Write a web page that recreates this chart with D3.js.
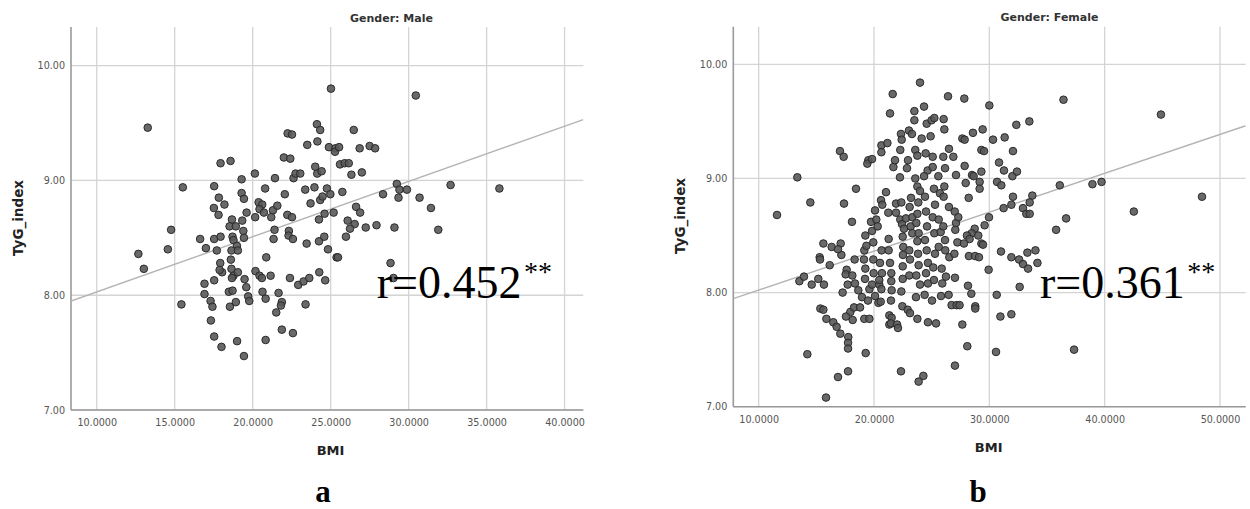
<!DOCTYPE html>
<html><head><meta charset="utf-8">
<script src="https://cdn.jsdelivr.net/npm/d3@7"></script>
<style>
html,body{margin:0;padding:0;background:#fff;}
svg{display:block;}
</style></head>
<body>
<svg id="chart" width="1250" height="509"></svg>
<script>
// ---------- DATA ----------
const maleTitle = "Gender: Male";
const femaleTitle = "Gender: Female";
const xLabel = "BMI";
const yLabel = "TyG_index";
const maleR = "r=0.452";
const femaleR = "r=0.361";
const sigMark = "**";
const panelLetters = ["a", "b"];

const maleXTicks = [10, 15, 20, 25, 30, 35, 40];
const femaleXTicks = [10, 20, 30, 40, 50];
const yTicks = [7, 8, 9, 10];

const maleXDomain = [8.35, 41.2];
const femaleXDomain = [7.8, 52.23];
const maleYDomain = [7, 10.337];
const femaleYDomain = [7, 10.33];

// fitted line (intercept, slope)
const maleFit = [7.548, 0.0481];
const femaleFit = [7.681, 0.0341];

// [BMI, TyG_index]
const malePoints = [
[13.27,9.46],[12.67,8.36],[13.02,8.23],[14.77,8.57],[14.56,8.40],[15.52,8.94],[15.43,7.92],
[16.63,8.49],[17.00,8.41],[16.91,8.10],[16.91,8.01],[17.30,7.95],[17.42,7.90],[17.32,7.78],[17.53,7.64],[18.00,7.55],[17.53,8.13],[17.53,8.95],[17.94,9.15],[18.58,9.17],[17.83,8.85],[18.19,8.79],[17.51,8.76],[17.81,8.70],[17.53,8.49],[17.94,8.51],[17.70,8.39],[17.92,8.28],[18.04,8.20],[17.88,8.22],
[18.67,8.66],[18.52,8.60],[18.92,8.60],[18.71,8.51],[18.77,8.48],[18.99,8.43],[18.64,8.39],[19.05,8.39],[18.60,8.31],[18.64,8.23],[18.77,8.17],[18.67,8.15],[19.05,8.20],[18.47,8.03],[18.71,8.04],[18.54,7.90],[18.92,7.94],[19.00,7.60],[19.44,7.47],
[19.29,9.01],[19.29,8.89],[19.44,8.84],[19.61,8.72],[19.33,8.65],[19.40,8.56],[19.44,8.50],[19.48,8.14],[19.59,8.07],[19.71,7.99],[19.78,7.95],
[20.14,9.06],[20.16,8.68],[20.38,8.81],[20.61,8.79],[20.44,8.75],[20.72,8.72],[20.18,8.21],[20.44,8.17],[20.59,8.15],[20.63,8.03],[20.83,7.97],[20.87,8.33],[20.80,8.93],[20.83,7.61],
[21.15,8.17],[21.30,8.74],[21.19,8.68],[21.40,8.57],[21.34,8.49],[21.43,9.02],[21.58,8.78],[21.66,8.02],[21.87,7.94],[21.81,7.91],[21.51,7.85],[21.87,7.70],
[22.06,8.88],[22.00,9.20],[22.41,9.19],[22.24,9.41],[22.52,9.40],[22.62,9.02],[22.75,9.06],[23.05,9.06],[22.22,8.70],[22.52,8.68],[22.32,8.56],[22.30,8.52],[22.58,8.49],[22.39,8.15],[22.58,7.67],[22.92,8.09],[23.26,8.12],[23.63,8.15],[23.46,8.45],[23.50,9.31],[23.37,8.92],[23.71,8.80],[23.39,7.92],
[23.96,8.94],[24.14,9.06],[24.12,9.49],[24.33,9.44],[24.15,9.34],[24.01,9.12],[24.42,9.08],[24.25,8.66],[24.25,8.47],[24.27,8.20],[24.33,8.83],[24.48,8.86],[24.61,8.71],[24.59,8.51],[24.65,8.13],[24.76,8.93],[24.83,8.40],[25.02,9.80],[24.89,9.29],[24.98,8.88],[25.19,8.72],[25.38,8.33],[25.30,9.28],[25.28,9.25],[25.60,9.14],
[30.46,9.74],[26.48,9.44],[25.54,9.29],[26.86,9.28],[27.50,9.30],[27.85,9.28],[25.90,9.15],[26.16,9.15],[26.33,9.05],[27.00,9.07],[25.75,8.90],[26.63,8.77],[26.89,8.72],[26.09,8.65],[26.54,8.62],[26.24,8.58],[25.98,8.51],[27.25,8.59],[27.94,8.61],[25.47,8.33],[28.36,8.88],[29.24,8.97],[29.41,8.92],[29.35,8.85],[29.89,8.92],[30.70,8.85],[31.43,8.76],[31.90,8.57],[32.69,8.96],[35.82,8.93],[29.09,8.59],[28.84,8.28],[29.03,8.15]
];

const femalePoints = [
[11.59,8.68],[13.35,9.01],[14.48,8.79],[14.22,7.46],[13.53,8.10],[13.93,8.14],[14.60,8.07],[15.17,8.12],[15.66,8.07],[15.61,8.43],[15.29,8.31],[15.32,8.29],[16.16,8.24],[15.35,7.86],[15.61,7.85],[15.87,7.77],[16.47,7.74],[16.76,7.70],[17.08,7.64],[15.84,7.08],[16.88,7.26],[17.75,7.31],
[16.33,8.40],[17.11,8.43],[17.17,8.33],[16.88,8.38],[17.40,8.78],[17.05,9.24],[17.37,9.19],[18.44,8.91],[18.09,8.62],[17.28,8.00],[17.63,8.20],[17.54,8.16],[17.72,8.07],[17.77,7.61],[17.75,7.56],[17.75,7.51],[17.95,7.83],[17.57,7.79],[18.15,7.76],
[18.32,8.29],[18.12,8.15],[18.35,8.08],[18.64,8.02],[18.27,7.87],[18.79,7.87],[18.96,7.96],[19.28,7.47],[19.22,8.12],[19.25,8.21],[19.13,8.29],[19.16,8.37],[19.25,8.50],[19.34,8.41],[19.51,9.16],[19.42,9.13],[19.83,9.17],[19.16,7.77],[19.60,7.77],[19.48,7.93],[19.60,8.03],[19.83,8.07],[19.97,8.17],[19.94,8.29],[19.94,8.44],[19.83,8.54],
[20.09,8.72],[19.74,8.62],[20.20,8.64],[20.32,8.58],[20.09,7.97],[20.38,7.91],[20.58,7.92],[20.46,8.07],[20.64,8.03],[20.46,8.11],[20.69,8.17],[20.52,8.26],[20.66,8.37],[20.61,8.81],[20.72,8.77],[20.64,9.29],[20.64,9.23],[21.16,9.31],[21.04,8.88],[21.24,8.70],[21.27,8.47],[21.27,8.37],[21.39,8.26],[21.50,8.17],[21.50,8.10],[21.53,8.02],[21.47,7.93],[21.33,7.80],[21.33,7.72],[21.53,7.78],[21.47,7.73],[22.00,7.72],[22.08,7.69],
[21.39,9.57],[21.62,9.74],[21.68,9.10],[21.82,9.16],[21.91,8.70],[21.91,8.78],[22.28,8.64],[22.25,9.01],[22.28,9.25],[22.34,9.39],[22.40,9.34],[22.37,8.79],[22.43,8.60],[22.49,8.49],[22.54,8.40],[22.51,8.33],[22.49,8.23],[22.49,8.12],[22.37,8.01],[22.46,7.88],[22.34,7.31],
[22.60,8.56],[22.77,8.65],[22.86,9.09],[22.95,9.16],[23.03,9.42],[23.29,9.39],[23.21,8.83],[23.09,8.75],[23.32,8.66],[23.18,8.58],[23.32,8.52],[23.06,8.37],[23.12,8.29],[23.06,8.15],[22.92,7.85],[23.12,7.82],
[23.50,9.51],[23.50,9.59],[23.58,9.25],[23.76,9.20],[23.58,9.00],[23.76,8.93],[23.99,8.89],[23.84,8.79],[23.76,8.69],[23.67,8.61],[23.87,8.52],[23.76,8.45],[23.82,8.34],[23.87,8.24],[23.67,8.15],[23.99,8.07],[23.64,7.96],[23.76,7.77],[23.87,7.22],[24.28,7.27],
[23.99,9.84],[24.13,9.35],[24.34,9.63],[24.57,9.48],[24.48,9.22],[24.65,9.07],[24.34,9.02],[24.42,8.84],[24.51,8.71],[24.60,8.58],[24.42,8.46],[24.57,8.37],[24.68,8.26],[24.51,8.17],[24.68,8.08],[24.39,7.98],[24.68,7.74],
[24.91,9.37],[24.99,9.51],[25.23,9.53],[25.09,9.19],[25.09,9.10],[25.20,8.91],[25.29,8.77],[25.09,8.66],[25.23,8.52],[25.29,8.34],[25.14,8.22],[25.20,8.11],[25.03,7.93],[25.38,7.73],
[25.58,9.02],[25.72,8.87],[25.61,8.64],[25.78,8.53],[25.61,8.40],[25.87,8.21],[25.92,8.08],[25.81,7.97],[26.04,9.52],[26.10,9.43],[26.01,9.19],[26.16,9.09],[26.10,8.93],[26.04,8.84],[26.01,8.58],[26.16,8.46],[26.18,8.37],[26.24,8.14],
[26.42,9.72],[26.50,9.26],[26.50,8.75],[26.53,8.31],[26.47,7.98],[26.73,7.89],[26.88,9.19],[27.11,9.03],[27.00,8.71],[27.05,8.55],[26.97,8.34],[27.02,8.13],[27.02,7.36],[27.17,7.89],[27.23,8.44],[27.11,8.61],[27.31,8.66],
[27.83,9.70],[30.00,9.64],[36.43,9.69],[44.88,9.56],[33.47,9.50],[32.34,9.47],[28.58,9.40],[29.42,9.43],[27.66,9.35],[27.86,9.34],[30.32,9.34],[31.33,9.36],[32.05,9.24],[29.31,9.25],[29.54,9.24],[30.84,9.14],[31.27,9.07],[32.00,9.02],[32.40,9.06],[27.86,9.11],[29.31,9.06],[28.50,9.03],[28.64,9.02],[27.95,8.96],[29.16,8.97],[29.16,8.91],[30.67,8.97],[31.04,8.94],
[28.21,8.83],[32.05,8.84],[31.91,8.77],[31.24,8.74],[33.73,8.85],[33.50,8.79],[32.92,8.74],[33.21,8.69],[33.50,8.69],[36.11,8.94],[38.94,8.95],[39.73,8.97],[48.44,8.84],[42.53,8.71],[36.66,8.65],[35.79,8.55],[29.97,8.66],[29.59,8.59],
[28.73,8.56],[28.47,8.52],[29.04,8.50],[28.06,8.50],[28.29,8.47],[27.80,8.43],[29.31,8.43],[29.45,8.42],[28.23,8.32],[28.76,8.32],[29.10,8.31],[31.01,8.36],[31.91,8.31],[32.58,8.29],[32.92,8.25],[33.36,8.21],[33.30,8.35],[34.00,8.37],[34.17,8.26],[29.94,8.20],
[28.15,8.06],[28.44,7.99],[32.63,8.05],[30.64,7.98],[27.42,7.89],[28.78,7.88],[28.78,7.86],[30.96,7.79],[31.91,7.81],[27.66,7.72],[28.09,7.53],[30.58,7.48],[37.35,7.50]
];

// ---------- DRAW ----------
const svg = d3.select("#chart");
svg.append("rect").attr("width",1250).attr("height",509).attr("fill","#fff");

function panel(cfg){
  const x = d3.scaleLinear().domain(cfg.xDomain).range([cfg.left, cfg.right]);
  const y = d3.scaleLinear().domain(cfg.yDomain).range([cfg.bottom, cfg.top]);
  const g = svg.append("g");

  // grid
  g.append("g").selectAll("line").data(cfg.xTicks).join("line")
    .attr("x1", d=>x(d)).attr("x2", d=>x(d))
    .attr("y1", cfg.top).attr("y2", cfg.bottom)
    .attr("stroke","#d4d4d4").attr("stroke-width",1.3);
  g.append("g").selectAll("line").data(cfg.yTicks).join("line")
    .attr("x1", cfg.left).attr("x2", cfg.right)
    .attr("y1", d=>y(d)).attr("y2", d=>y(d))
    .attr("stroke","#d4d4d4").attr("stroke-width",1.3);

  // axes
  const xAxis = d3.axisBottom(x).tickValues(cfg.xTicks).tickFormat(d3.format(".4f")).tickSize(0).tickPadding(9);
  const yAxis = d3.axisLeft(y).tickValues(cfg.yTicks).tickFormat(d3.format(".2f")).tickSize(0).tickPadding(6);
  const gx = g.append("g").attr("transform",`translate(0,${cfg.bottom})`).call(xAxis);
  const gy = g.append("g").attr("transform",`translate(${cfg.left},0)`).call(yAxis);
  [gx, gy].forEach(a=>{
    a.select(".domain").attr("stroke","#9a9a9a").attr("stroke-width",1.6);
    a.selectAll("text").attr("font-family","DejaVu Sans").attr("font-size","9.6px").attr("fill","#555");
  });
  gx.select(".domain").attr("d", `M${cfg.left},0H${cfg.right}`);
  gy.select(".domain").attr("d", `M0,${cfg.bottom}V${cfg.top}`);

  // regression line
  const clipId = "clip" + cfg.id;
  svg.append("clipPath").attr("id", clipId).append("rect")
    .attr("x", cfg.left).attr("y", cfg.top).attr("width", cfg.right-cfg.left).attr("height", cfg.bottom-cfg.top);
  const lineGen = d3.line().x(d=>x(d)).y(d=>y(cfg.fit[0] + cfg.fit[1]*d));
  g.append("path").datum(cfg.xDomain).attr("d", lineGen)
    .attr("fill","none").attr("stroke","#b4b4b4").attr("stroke-width",1.4)
    .attr("clip-path",`url(#${clipId})`);

  // points
  g.append("g").selectAll("circle").data(cfg.points).join("circle")
    .attr("cx", d=>x(d[0])).attr("cy", d=>y(d[1])).attr("r",3.8)
    .attr("fill","#595959").attr("fill-opacity",0.9)
    .attr("stroke","#2a2a2a").attr("stroke-width",1);

  // title
  g.append("text").attr("x", cfg.titleX).attr("y", cfg.titleY)
    .attr("text-anchor","middle").attr("font-family","DejaVu Sans")
    .attr("font-weight","bold").attr("font-size","11px").attr("fill","#333")
    .text(cfg.title);

  // axis labels
  g.append("text").attr("transform",`translate(${cfg.left-48},${cfg.yLabelY}) rotate(-90)`)
    .attr("text-anchor","middle").attr("font-family","DejaVu Sans")
    .attr("font-weight","bold").attr("font-size","13.5px").attr("fill","#222")
    .text(yLabel);
  g.append("text").attr("x", cfg.xLabelX).attr("y", cfg.bottom+45)
    .attr("text-anchor","middle").attr("font-family","DejaVu Sans")
    .attr("font-weight","bold").attr("font-size","13px").attr("fill","#222")
    .text(xLabel);

  // r annotation
  const rt = g.append("text").attr("x", cfg.rX).attr("y", cfg.rY)
    .attr("font-family","Liberation Serif, Times New Roman, serif")
    .attr("font-size","46px").attr("fill","#000").text(cfg.r);
  const w = rt.node().getComputedTextLength();
  g.append("text").attr("x", cfg.rX + w + 2.5).attr("y", cfg.rY - 17)
    .attr("font-family","Liberation Serif, Times New Roman, serif")
    .attr("font-size","28px").attr("fill","#000").text(sigMark);

  // panel letter
  g.append("text").attr("x", cfg.letterX).attr("y", cfg.letterY)
    .attr("text-anchor","middle").attr("font-family","Liberation Serif, Times New Roman, serif")
    .attr("font-weight","bold").attr("font-size","31px").attr("fill","#000")
    .text(cfg.letter);
}

panel({id:"m", xDomain:maleXDomain, yDomain:maleYDomain, xTicks:maleXTicks, yTicks:yTicks,
  left:71, right:583.3, top:27, bottom:410, fit:maleFit, points:malePoints,
  title:maleTitle, titleX:391.5, titleY:21.5, yLabelY:218, xLabelX:330.5,
  r:maleR, rX:376.7, rY:298, letter:panelLetters[0], letterX:323, letterY:501.5});

panel({id:"f", xDomain:femaleXDomain, yDomain:femaleYDomain, xTicks:femaleXTicks, yTicks:yTicks,
  left:733.3, right:1245.7, top:26.7, bottom:406.7, fit:femaleFit, points:femalePoints,
  title:femaleTitle, titleX:1049.5, titleY:20.7, yLabelY:216, xLabelX:988.7,
  r:femaleR, rX:1040, rY:298.3, letter:panelLetters[1], letterX:978, letterY:501.5});
</script>
</body></html>
